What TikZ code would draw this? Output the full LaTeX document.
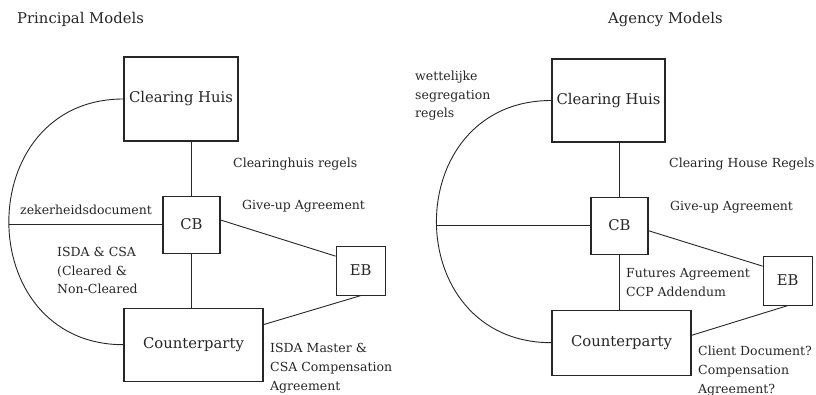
\documentclass[tikz,border=0pt]{standalone}
\usepackage{fontspec}
\setmainfont{DejaVu Serif}
\usepackage{tikz}
\usetikzlibrary{positioning}

\begin{document}
\begin{tikzpicture}[
    x=1pt, y=-1pt,
    box/.style={rectangle, draw=black!85, line width=1.1pt, text=black!85, inner sep=0pt, font=\fontsize{14.8}{17}\selectfont},
    househuis/.style={box, minimum width=114pt, minimum height=84pt},
    brokerbox/.style={box, minimum size=57pt},
    execbox/.style={box, minimum size=49pt},
    partybox/.style={box, minimum width=139pt, minimum height=73pt},
    link/.style={draw=black!85, line width=0.9pt},
    note/.style={font=\fontsize{12.5}{18.6}\selectfont, text=black!85, align=left, anchor=base west, inner sep=0pt},
    heading/.style={font=\fontsize{14.8}{17}\selectfont, text=black!85, anchor=base west, inner sep=0pt}
]
    \useasboundingbox (0,0) rectangle (816,395);

    % Principal models
    \node[heading] (title_pm) at (17,24) {Principal Models};
    \node[househuis] (house_pm) at (181,99) {Clearing Huis};
    \node[brokerbox, below=54pt of house_pm, xshift=10.5pt] (cb_pm) {CB};
    \node[execbox, right=115pt of cb_pm, yshift=-46pt] (eb_pm) {EB};
    \node[partybox, below=54pt of cb_pm, xshift=2pt] (party_pm) {Counterparty};

    \draw[link] (cb_pm.north) -- (cb_pm.north |- house_pm.south);
    \draw[link] (cb_pm.south) -- (cb_pm.south |- party_pm.north);
    \draw[link] (cb_pm.9) -- (eb_pm.150);
    \draw[link] (eb_pm.south) -- (party_pm.16);
    \draw[link] (house_pm.west) to[out=180, in=180, looseness=1.595] coordinate[pos=0.5] (curve_pm) (party_pm.west);
    \draw[link] (cb_pm.west) -- (cb_pm.west -| curve_pm);

    % multi-line notes sit on their last line
    \node[note] (rules_pm) at (233,168) {Clearinghuis regels};
    \node[note] (giveup_pm) at (242,210) {Give-up Agreement};
    \node[note] (security_pm) at (20,215) {zekerheidsdocument};
    \node[note] (isda_pm) at (57,294) {ISDA \& CSA\\(Cleared \&\\Non-Cleared};
    \node[note] (master_pm) at (270,390) {ISDA Master \&\\CSA Compensation\\Agreement};

    % Agency models
    \node[heading] (title_am) at (608,24) {Agency Models};
    \node[househuis, minimum width=113pt, minimum height=83pt] (house_am) at (608.5,100.5) {Clearing Huis};
    \node[brokerbox, below=54pt of house_am, xshift=11pt] (cb_am) {CB};
    \node[execbox, right=114pt of cb_am, yshift=-55pt] (eb_am) {EB};
    \node[partybox, minimum height=65pt, below=55pt of cb_am, xshift=2pt] (party_am) {Counterparty};

    \draw[link] (cb_am.north) -- (cb_am.north |- house_am.south);
    \draw[link] (cb_am.south) -- (cb_am.south |- party_am.north);
    \draw[link] (cb_am.-10) -- (eb_am.150);
    \draw[link] (eb_am.south) -- (party_am.6);
    \draw[link] (house_am.west) to[out=180, in=180, looseness=1.624] coordinate[pos=0.5] (curve_am) (party_am.west);
    \draw[link] (cb_am.west) -- (cb_am.west -| curve_am);

    \node[note] (legal_am) at (415,118) {wettelijke\\segregation\\regels};
    \node[note] (rules_am) at (669,168) {Clearing House Regels};
    \node[note] (giveup_am) at (670,211) {Give-up Agreement};
    \node[note] (futures_am) at (626,296) {Futures Agreement\\CCP Addendum};
    \node[note] (client_am) at (698,393) {Client Document?\\Compensation\\Agreement?};
\end{tikzpicture}
\end{document}
